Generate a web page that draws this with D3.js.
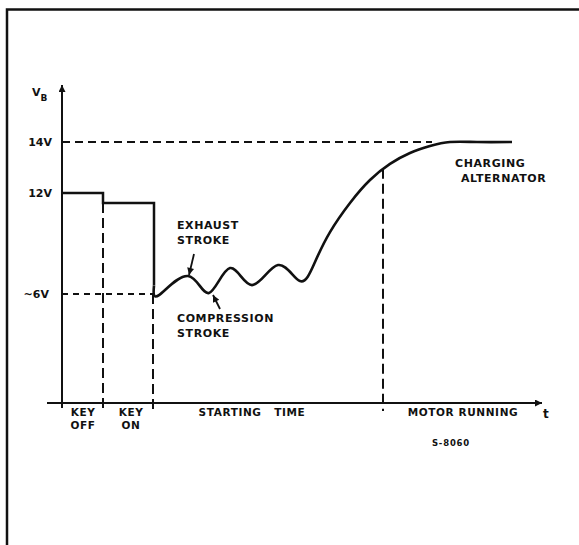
<!DOCTYPE html>
<html>
<head>
<meta charset="utf-8">
<script src="https://cdn.jsdelivr.net/npm/d3@7"></script>
<style>
  body { margin: 0; background: #fff; }
  text { font-family: "DejaVu Sans", sans-serif; font-weight: bold; fill: #111; }
</style>
</head>
<body>
<div id="chart"></div>
<script>
// battery voltage during start (schematic), time in arbitrary units
const stepTimes = [0, 4.1, 4.1, 9.2, 9.2];
const stepVolts = [12, 12, 11.4, 11.4, 6.5];

const crankTimes = [9.2, 9.7, 12.6, 14.7, 16.8, 19.0, 21.6, 23.8, 25.3, 26.8, 28.8, 30.8, 32.8, 34.8, 36.8, 38.8, 41.5, 45.0];
const crankVolts = [6.5, 5.94, 7.07, 6.06, 7.54, 6.53, 7.72, 6.77, 7.9, 9.68, 11.41, 12.51, 13.14, 13.57, 13.84, 14.0, 14.0, 14.0];

const voltTicks = [14, 12, 6];
const voltLabels = ['14V', '12V', '~6V'];

const phaseBounds = [4.1, 9.1, 32.1]; // key on, start, motor running
const phaseBoundVolts = [11.4, 6, 12.95];
const phaseLabels = [['KEY', 'OFF'], ['KEY', 'ON'], ['STARTING   TIME'], ['MOTOR RUNNING']];
const phaseLabelTimes = [2.1, 6.9, 19.0, 40.1];

const width = 579;
const height = 545;

const svg = d3
  .select('#chart')
  .append('svg')
  .attr('width', width)
  .attr('height', height);

// schematic voltage axis is not linear
const x = d3.scaleLinear().domain([0, 48]).range([62, 542]);
const y = d3.scaleLinear().domain([0, 6, 12, 14]).range([403, 294, 193, 142]);

const defs = svg.append('defs');
defs
  .append('marker')
  .attr('id', 'head')
  .attr('viewBox', '0 0 10 10')
  .attr('refX', 10)
  .attr('refY', 5)
  .attr('markerWidth', 9)
  .attr('markerHeight', 7)
  .attr('markerUnits', 'userSpaceOnUse')
  .attr('orient', 'auto')
  .append('path')
  .attr('d', 'M0,0L10,5L0,10Z')
  .attr('fill', '#111');

// frame (only top and left visible)
svg.append('path')
  .attr('d', `M7,${height}V9.5H${width}`)
  .attr('fill', 'none')
  .attr('stroke', '#111')
  .attr('stroke-width', 2.5);

// dashed guides
svg.append('line')
  .attr('x1', x(0)).attr('x2', x(37))
  .attr('y1', y(14)).attr('y2', y(14))
  .attr('stroke', '#111').attr('stroke-width', 1.8)
  .attr('stroke-dasharray', '8,5');

svg.append('line')
  .attr('x1', x(0)).attr('x2', x(9.2))
  .attr('y1', y(6)).attr('y2', y(6))
  .attr('stroke', '#111').attr('stroke-width', 1.8)
  .attr('stroke-dasharray', '6,5');

svg.selectAll('.vguide')
  .data(phaseBounds)
  .enter()
  .append('line')
  .attr('class', 'vguide')
  .attr('x1', (d) => x(d)).attr('x2', (d) => x(d))
  .attr('y1', (d, i) => y(phaseBoundVolts[i]))
  .attr('y2', y(0) + 8)
  .attr('stroke', '#111').attr('stroke-width', 2)
  .attr('stroke-dasharray', '10,5');

// axes
svg.append('line')
  .attr('x1', x(0)).attr('x2', x(0))
  .attr('y1', y(0) + 5).attr('y2', 85)
  .attr('stroke', '#111').attr('stroke-width', 2)
  .attr('marker-end', 'url(#head)');

svg.append('line')
  .attr('x1', 47).attr('x2', x(48))
  .attr('y1', y(0)).attr('y2', y(0))
  .attr('stroke', '#111').attr('stroke-width', 2)
  .attr('marker-end', 'url(#head)');

svg.append('line')
  .attr('x1', x(0)).attr('x2', x(0) + 6)
  .attr('y1', y(14)).attr('y2', y(14))
  .attr('stroke', '#111').attr('stroke-width', 2);

svg.selectAll('.vtick')
  .data(voltTicks)
  .enter()
  .append('text')
  .attr('class', 'vtick')
  .attr('x', (d) => (d === 6 ? 49 : 52))
  .attr('y', (d) => y(d) + 4)
  .attr('text-anchor', 'end')
  .attr('font-size', 11)
  .text((d, i) => voltLabels[i]);

const vb = svg.append('text').attr('x', 32).attr('y', 96).attr('font-size', 11);
vb.append('tspan').text('V');
vb.append('tspan').attr('dy', 5).attr('font-size', 9).text('B');

svg.append('text')
  .attr('x', 543).attr('y', 418)
  .attr('font-size', 12)
  .text('t');

// voltage trace
const line = d3.line().x((d) => x(d[0])).y((d) => y(d[1]));

svg.append('path')
  .datum(d3.zip(stepTimes, stepVolts))
  .attr('d', line)
  .attr('fill', 'none')
  .attr('stroke', '#111')
  .attr('stroke-width', 2.5);

svg.append('path')
  .datum(d3.zip(crankTimes, crankVolts))
  .attr('d', line.curve(d3.curveNatural))
  .attr('fill', 'none')
  .attr('stroke', '#111')
  .attr('stroke-width', 2.6);

// phase labels under the time axis
phaseLabels.forEach((lines, i) => {
  const t = svg.append('text')
    .attr('x', x(phaseLabelTimes[i]))
    .attr('y', 416)
    .attr('text-anchor', 'middle')
    .attr('font-size', 10.5)
    .attr('letter-spacing', 0.6)
    .style('white-space', 'pre');
  lines.forEach((s, j) => {
    t.append('tspan')
      .attr('x', x(phaseLabelTimes[i]))
      .attr('dy', j === 0 ? 0 : 12.5)
      .text(s);
  });
});

// annotations
function note(lines, px, py) {
  const t = svg.append('text')
    .attr('font-size', 11)
    .attr('letter-spacing', 0.6);
  lines.forEach((s, j) => {
    t.append('tspan').attr('x', px).attr('y', py + j * 15).text(s);
  });
}

note(['EXHAUST', 'STROKE'], 177, 229);
note(['COMPRESSION', 'STROKE'], 177, 322);
note(['CHARGING'], 455, 167);
note(['ALTERNATOR'], 461, 182);

svg.append('line')
  .attr('x1', x(12.6) + 6).attr('y1', y(7.07) - 22)
  .attr('x2', x(12.6) + 1).attr('y2', y(7.07) - 1)
  .attr('stroke', '#111').attr('stroke-width', 1.8)
  .attr('marker-end', 'url(#head)');

svg.append('line')
  .attr('x1', x(14.7) + 11).attr('y1', y(6.06) + 16)
  .attr('x2', x(14.7) + 4).attr('y2', y(6.06) + 2)
  .attr('stroke', '#111').attr('stroke-width', 1.8)
  .attr('marker-end', 'url(#head)');

svg.append('text')
  .attr('x', 451).attr('y', 446)
  .attr('text-anchor', 'middle')
  .attr('font-size', 8.5)
  .attr('letter-spacing', 0.8)
  .text('S-8060');
</script>
</body>
</html>
